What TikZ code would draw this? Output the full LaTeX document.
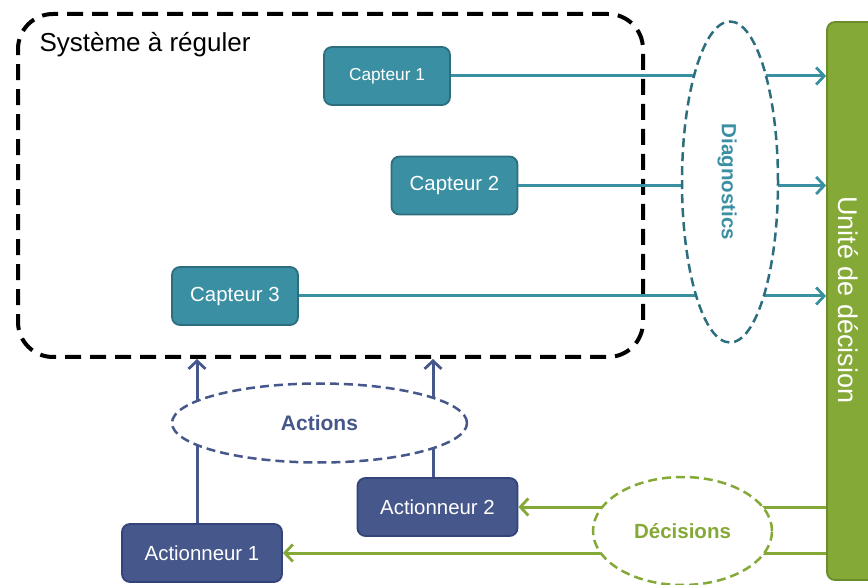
\documentclass[tikz,border=0pt]{standalone}
\usepackage{fontspec}
\setmainfont{Liberation Sans}
\usetikzlibrary{arrows.meta,shapes.geometric}
\definecolor{teal1}{HTML}{3A8FA3}
\definecolor{teal2}{HTML}{2C6E7E}
\definecolor{blue1}{HTML}{46578B}
\definecolor{blue2}{HTML}{34447A}
\definecolor{green1}{HTML}{85A936}
\definecolor{green2}{HTML}{6B8C2A}
\tikzset{
  box/.style={draw, line width=1.8pt, rounded corners=8pt, minimum width=126pt, minimum height=58pt, text=white, inner sep=0pt},
  capbox/.style={box, fill=teal1, draw=teal2},
  actbox/.style={box, fill=blue1, draw=blue2, minimum width=160pt},
  tip/.style={-{Straight Barb[length=8pt,width=17pt,line width=2.8pt]}},
  tealarrow/.style={draw=teal1, line width=3pt, tip},
  bluearrow/.style={draw=blue1, line width=3pt, tip},
  greenarrow/.style={draw=green1, line width=3pt, tip},
  group/.style={ellipse, fill=white, line width=2.5pt, dash pattern=on 9pt off 5pt, inner sep=0pt, font=\bfseries},
}
\begin{document}
\begin{tikzpicture}[x=1pt,y=-1pt]
\useasboundingbox (0,0) rectangle (868,585);
\clip (0,0) rectangle (868,585);
% system box
\node[draw=black, line width=4pt, dash pattern=on 16pt off 9pt, rounded corners=35pt, minimum width=625pt, minimum height=343pt, inner sep=0pt] (sys) at (330.5,185.5) {};
\node[anchor=west, font=\fontsize{26}{30}\selectfont] (title) at (36,45) {Système à réguler};
% decision unit
\node[fill=green1, draw=green2, line width=1.8pt, rounded corners=8pt, minimum width=70pt, minimum height=558pt, inner sep=0pt] (ud) at (862,301) {};
\node[rotate=-90, text=white, font=\fontsize{27}{31}\selectfont] (udt) at (848,300) {Unité de décision};
% sensors
\node[capbox, font=\fontsize{17.3}{20}\selectfont] (c1) at (387,76) {Capteur 1};
\node[capbox, font=\fontsize{20.4}{24}\selectfont] (c2) at (454.5,185.5) {Capteur 2};
\node[capbox, font=\fontsize{20.4}{24}\selectfont] (c3) at (235,296) {Capteur 3};
% actuators
\node[actbox, font=\fontsize{20.4}{24}\selectfont] (a1) at (202,553) {Actionneur 1};
\node[actbox, font=\fontsize{20.4}{24}\selectfont] (a2) at (437.5,507) {Actionneur 2};
% sensor arrows
\draw[tealarrow] (c1.east) -- (c1.east -| ud.west);
\draw[tealarrow] (c2.east) -- (c2.east -| ud.west);
\draw[tealarrow] (c3.east) -- (c3.east -| ud.west);
% actuator arrows
\coordinate (p1) at (197,0);
\coordinate (p2) at (433,0);
\draw[bluearrow] (a1.north -| p1) -- (p1 |- sys.south);
\draw[bluearrow] (a2.north -| p2) -- (p2 |- sys.south);
% decision arrows
\draw[greenarrow] (ud.west |- a2.east) -- (a2.east);
\draw[greenarrow] (ud.west |- a1.east) -- (a1.east);
% groups
\node[group, draw=teal2, text=teal1, minimum width=96pt, minimum height=321pt] (diag) at (730,182) {};
\node[rotate=-90, text=teal1, font=\bfseries\fontsize{20.5}{24}\selectfont] (diagt) at (727,182) {Diagnostics};
\node[group, draw=blue1, text=blue1, minimum width=295pt, minimum height=79pt, font=\bfseries\fontsize{21}{25}\selectfont] (act) at (319.5,423) {Actions};
\node[group, draw=green1, text=green1, minimum width=179pt, minimum height=108pt, font=\bfseries\fontsize{20.5}{24}\selectfont] (dec) at (682.5,531) {Décisions};
\end{tikzpicture}
\end{document}
